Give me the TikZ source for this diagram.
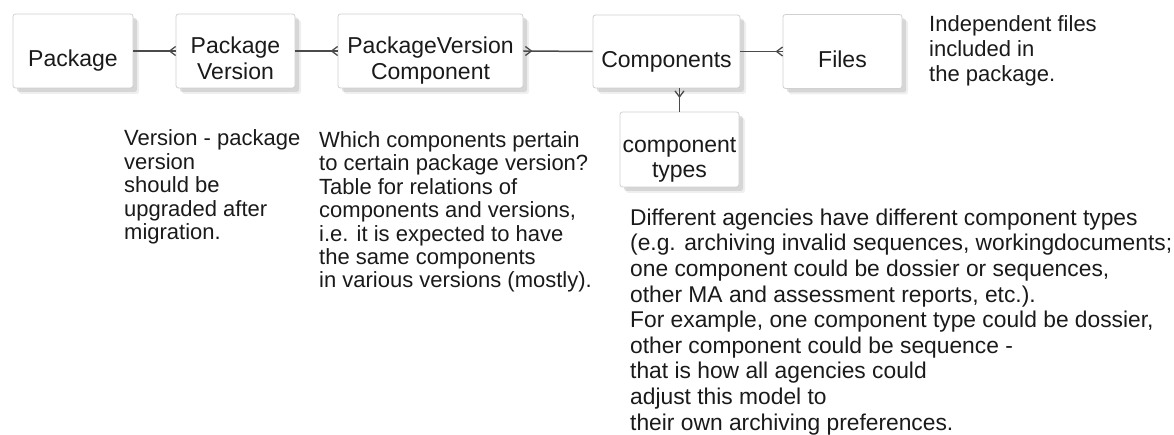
\documentclass[tikz,border=0pt]{standalone}
\usepackage{fontspec}
\setmainfont{Liberation Sans}
\usetikzlibrary{shadows}
\definecolor{edgegray}{HTML}{D0D0D0}
\definecolor{wiregray}{HTML}{4A4A4A}
\definecolor{ink}{HTML}{1A1A1A}

\begin{document}
\begin{tikzpicture}[x=1pt,y=-1pt,
  entity/.style={draw=edgegray, line width=0.8pt, fill=white,
    rounded corners=2.5pt, inner sep=0pt,
    drop shadow={shadow xshift=6pt, shadow yshift=-6pt, fill=black!12},
    drop shadow={shadow xshift=4pt, shadow yshift=-4pt, fill=black!26}},
  entitytext/.style={inner sep=0pt, anchor=base, align=center, text=ink,
    font=\fontsize{23}{26}\selectfont},
  note/.style={inner sep=0pt, anchor=base west, align=left, text=ink},
  wire/.style={draw=wiregray, line width=1.5pt},
  crowfoot/.pic={\draw[wire, line width=1.3pt] (0,-4.5) -- (-6,0) -- (0,4.5);}
]
\useasboundingbox (0,0) rectangle (1174,435);

% entity boxes
\node[entity, minimum width=120pt, minimum height=74pt] (pkg)   at (73,51)    {};
\node[entity, minimum width=119pt, minimum height=74pt] (pv)    at (235.5,51) {};
\node[entity, minimum width=185pt, minimum height=74pt] (pvc)   at (430.5,51) {};
\node[entity, minimum width=147pt, minimum height=73pt] (comp)  at (666.5,51.5) {};
\node[entity, minimum width=119pt, minimum height=74pt] (files) at (842.5,51.5) {};
\node[entity, minimum width=119pt, minimum height=75pt] (ctypes) at (679.5,149.5) {};

% box captions (the base anchor of a multi-line node is its last baseline)
\node[entitytext] (pkg-t)    at ([yshift=-16pt]pkg.center)  {Package};
\node[entitytext] (pv-t)     at ([yshift=-29pt]pv.center)   {Package\\Version};
\node[entitytext] (pvc-t)    at ([yshift=-29pt]pvc.center)  {PackageVersion\\Component};
\node[entitytext] (comp-t)   at ([yshift=-16pt]comp.center) {Components};
\node[entitytext] (files-t)  at ([yshift=-16pt]files.center) {Files};
\node[entitytext, font=\fontsize{23}{24.5}\selectfont] (ctypes-t) at ([yshift=-28pt]ctypes.center) {component\\types};

% relationships (crow's foot on the "many" side)
\draw[wire] (pkg.east) -- (pv.west);
\pic at (pv.west) {crowfoot};
\draw[wire] (pv.east) -- (pvc.west);
\pic at (pvc.west) {crowfoot};
\draw[wire] (pvc.east) -- (comp.west);
\pic[rotate=180] at ([xshift=2pt]pvc.east) {crowfoot};
\draw[wire] (comp.east) -- (files.west);
\pic at (files.west) {crowfoot};
\draw[wire] (comp.south -| ctypes.north) -- (ctypes.north);
\pic[rotate=90] at ([yshift=-2.5pt]comp.south -| ctypes.north) {crowfoot};

% annotations (positioned by the baseline of their last line)
\node[note, font=\fontsize{22}{25}\selectfont] (note-files) at (929,82)
  {Independent files\\included in\\the package.};
\node[note, font=\fontsize{22}{23.5}\selectfont] (note-version) at (124,240)
  {Version - package\\version\\should be\\upgraded after\\migration.};
\node[note, font=\fontsize{22}{23.4}\selectfont] (note-pvc) at (319,288)
  {Which components pertain\\to certain package version?\\Table for relations of\\components and versions,\\i.e. it is expected to have\\the same components\\in various versions (mostly).};
\node[note, font=\fontsize{22.8}{25.6}\selectfont] (note-types) at (630,430)
  {Different agencies have different component types\\(e.g. archiving invalid sequences, workingdocuments;\\one component could be dossier or sequences,\\other MA and assessment reports, etc.).\\For example, one component type could be dossier,\\other component could be sequence -\\that is how all agencies could\\adjust this model to\\their own archiving preferences.};
\end{tikzpicture}
\end{document}
